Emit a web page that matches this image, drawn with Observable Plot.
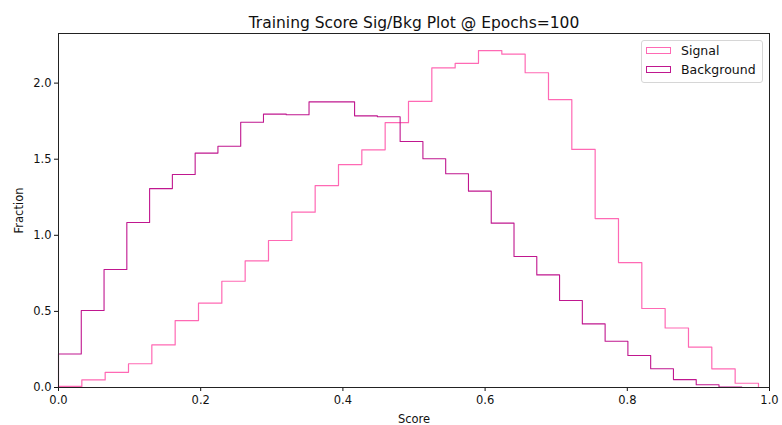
<!DOCTYPE html>
<html>
<head>
<meta charset="utf-8">
<script src="https://cdn.jsdelivr.net/npm/d3@7"></script>
<script src="https://cdn.jsdelivr.net/npm/@observablehq/plot@0.6"></script>
<style>
  html, body { margin: 0; padding: 0; background: #fff; }
  #wrap { position: relative; width: 782px; height: 425px; font-family: "DejaVu Sans", sans-serif; }
  #legend { position: absolute; left: 641px; top: 40px; width: 120px; height: 41px; border: 1px solid #d6d6d6; border-radius: 3px; background: rgba(255,255,255,0.8); font-size: 12.5px; color: #111; }
  .row { position: absolute; left: 4px; display: flex; align-items: center; }
  .patch { display: inline-block; width: 25px; height: 7px; box-sizing: border-box; border: 1.3px solid; margin-right: 10px; }
</style>
</head>
<body>
<div id="wrap">
  <div id="chart"></div>
  <div id="legend"></div>
</div>
<script>
const title = "Training Score Sig/Bkg Plot @ Epochs=100";
const seriesNames = ["Signal", "Background"];
const seriesColors = ["#ff69b4", "#c0178f"];
const binCount = 30;
const sigRange = [0, 0.9845];
const bkgRange = [0, 0.961];
const sigValues = [0.007, 0.05, 0.10, 0.156, 0.28, 0.44, 0.554, 0.698, 0.832, 0.966,
                   1.152, 1.327, 1.465, 1.562, 1.74, 1.88, 2.10, 2.13, 2.214, 2.19,
                   2.068, 1.892, 1.564, 1.11, 0.821, 0.519, 0.391, 0.265, 0.123, 0.028];
const bkgValues = [0.22, 0.506, 0.775, 1.084, 1.307, 1.40, 1.54, 1.585, 1.743, 1.796,
                   1.792, 1.877, 1.877, 1.785, 1.779, 1.616, 1.503, 1.404, 1.29, 1.08,
                   0.861, 0.74, 0.572, 0.418, 0.304, 0.21, 0.123, 0.052, 0.018, 0.003];
const xTicks = [0, 0.2, 0.4, 0.6, 0.8, 1.0];
const yTicks = [0, 0.5, 1.0, 1.5, 2.0];

function stepPoints(values, range, name) {
  const [lo, hi] = range;
  const w = (hi - lo) / binCount;
  const pts = [{x: lo, y: 0, s: name}];
  values.forEach((v, i) => pts.push({x: lo + i * w, y: v, s: name}));
  pts.push({x: hi, y: 0, s: name});
  return pts;
}
const sigPts = stepPoints(sigValues, sigRange, seriesNames[0]);
const bkgPts = stepPoints(bkgValues, bkgRange, seriesNames[1]);

const chart = Plot.plot({
  width: 782,
  height: 425,
  marginLeft: 58,
  marginRight: 13,
  marginTop: 33,
  marginBottom: 38,
  style: {fontFamily: "DejaVu Sans, sans-serif", fontSize: "11.5px", color: "#111", background: "#fff"},
  x: {domain: [0, 1], ticks: xTicks, tickFormat: d3.format(".1f"), label: "Score", labelArrow: false, labelAnchor: "center", labelOffset: 35, tickSize: 4, tickPadding: 4},
  y: {domain: [0, 2.326], ticks: yTicks, tickFormat: d3.format(".1f"), label: "Fraction", labelArrow: false, labelAnchor: "center", labelOffset: 44, tickSize: 4, tickPadding: 3},
  marks: [
    Plot.line(sigPts, {x: "x", y: "y", curve: "step-after", stroke: seriesColors[0], strokeWidth: 1.2}),
    Plot.line(bkgPts, {x: "x", y: "y", curve: "step-after", stroke: seriesColors[1], strokeWidth: 1.1}),
    Plot.frame({stroke: "#222", strokeWidth: 1}),
    Plot.text([title], {text: d => d, frameAnchor: "top", dy: -17, fontSize: 15.5, fill: "#111"})
  ]
});
document.getElementById("chart").appendChild(chart);

const legend = document.getElementById("legend");
seriesNames.forEach((n, i) => {
  const row = document.createElement("div");
  row.className = "row";
  row.style.top = (i === 0 ? 2 : 21) + "px";
  const p = document.createElement("span");
  p.className = "patch";
  p.style.borderColor = seriesColors[i];
  row.appendChild(p);
  const t = document.createElement("span");
  t.textContent = n;
  row.appendChild(t);
  legend.appendChild(row);
});
</script>
</body>
</html>
